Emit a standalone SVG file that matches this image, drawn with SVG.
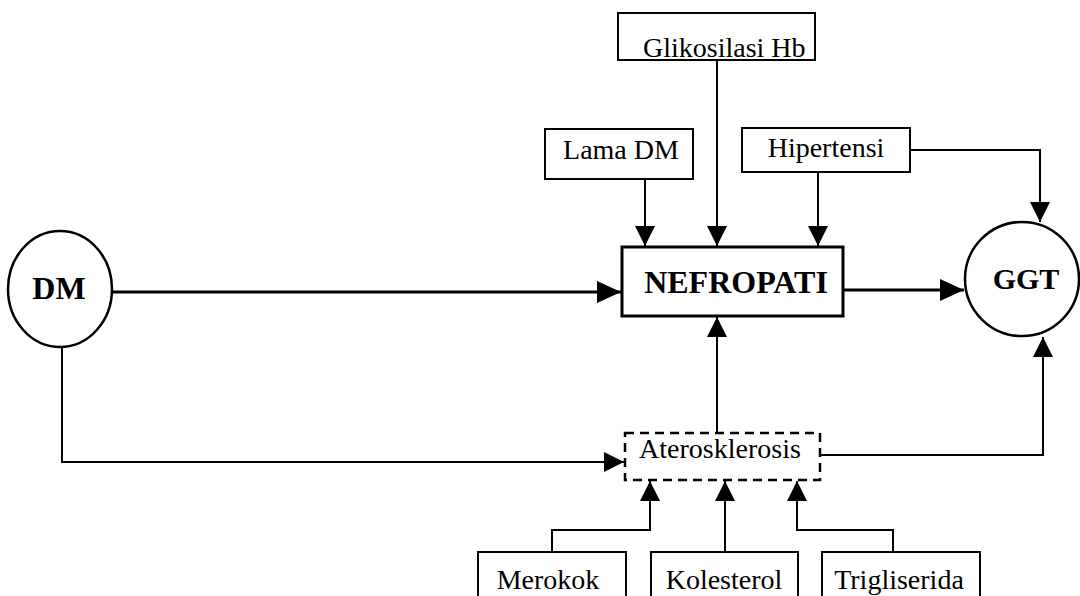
<svg xmlns="http://www.w3.org/2000/svg" width="1080" height="596" viewBox="0 0 1080 596">
  <style>
    .box { fill: #fff; stroke: #000; stroke-width: 2; }
    .thick { fill: #fff; stroke: #000; stroke-width: 3; }
    .dash { fill: #fff; stroke: #000; stroke-width: 2.5; stroke-dasharray: 9 6; }
    .lbl { font-family: "Liberation Serif", "Times New Roman", serif; font-size: 28px; fill: #000; }
    .big { font-family: "Liberation Serif", "Times New Roman", serif; font-size: 32px; font-weight: bold; fill: #000; }
    .wire { fill: none; stroke: #000; stroke-width: 2; marker-end: url(#arrow); }
    .main { stroke-width: 2.8; marker-end: url(#arrowBig); }
  </style>
  <defs>
    <marker id="arrow" markerUnits="userSpaceOnUse" markerWidth="22" markerHeight="22" refX="20" refY="10" orient="auto">
      <path d="M0,0 L20,10 L0,20 Z" fill="#000"/>
    </marker>
    <marker id="arrowBig" markerUnits="userSpaceOnUse" markerWidth="26" markerHeight="24" refX="24" refY="11" orient="auto">
      <path d="M0,0 L24,11 L0,22 Z" fill="#000"/>
    </marker>
  </defs>
  <rect width="1080" height="596" fill="#fff"/>

  <!-- connectors -->
  <g id="connectors">
    <path class="wire main" d="M112,292 H621"/>
    <path class="wire main" d="M843,290 H964"/>
    <path class="wire" d="M645,179 V246"/>
    <path class="wire" d="M717,60 V246"/>
    <path class="wire" d="M818,172 V246"/>
    <path class="wire" d="M910,150 H1040 V222"/>
    <path class="wire" d="M62,347 V462 H624"/>
    <path class="wire" d="M717,433 V317"/>
    <path class="wire" d="M820,455 H1043 V337"/>
    <path class="wire" d="M552,552 V530 H650 V481"/>
    <path class="wire" d="M725,552 V481"/>
    <path class="wire" d="M893,552 V530 H797 V481"/>
  </g>

  <g id="dm">
    <ellipse class="thick" cx="60" cy="289" rx="52" ry="58" style="stroke-width:2.5"/>
    <text class="big" x="59" y="299" text-anchor="middle">DM</text>
  </g>

  <g id="glikosilasi">
    <rect class="box" x="618" y="13" width="197" height="47"/>
    <text class="lbl" x="643" y="57">Glikosilasi Hb</text>
  </g>

  <g id="lama-dm">
    <rect class="box" x="545" y="129" width="148" height="50"/>
    <text class="lbl" x="621" y="159" text-anchor="middle">Lama DM</text>
  </g>

  <g id="hipertensi">
    <rect class="box" x="742" y="128" width="168" height="44"/>
    <text class="lbl" x="826" y="157" text-anchor="middle">Hipertensi</text>
  </g>

  <g id="nefropati">
    <rect class="thick" x="622" y="247" width="221" height="69"/>
    <text class="big" x="736" y="293" text-anchor="middle">NEFROPATI</text>
  </g>

  <g id="ggt">
    <circle class="thick" cx="1022" cy="279" r="57" style="stroke-width:2.5"/>
    <text class="big" x="1026" y="289" text-anchor="middle" style="font-size:30px">GGT</text>
  </g>

  <g id="aterosklerosis">
    <rect class="dash" x="625" y="433" width="195" height="47"/>
    <text class="lbl" x="720" y="458" text-anchor="middle">Aterosklerosis</text>
  </g>

  <g id="merokok">
    <rect class="box" x="478" y="552" width="148" height="50"/>
    <text class="lbl" x="548" y="589" text-anchor="middle">Merokok</text>
  </g>

  <g id="kolesterol">
    <rect class="box" x="651" y="552" width="147" height="50"/>
    <text class="lbl" x="724" y="589" text-anchor="middle">Kolesterol</text>
  </g>

  <g id="trigliserida">
    <rect class="box" x="822" y="552" width="158" height="50"/>
    <text class="lbl" x="899" y="589" text-anchor="middle">Trigliserida</text>
  </g>
</svg>
